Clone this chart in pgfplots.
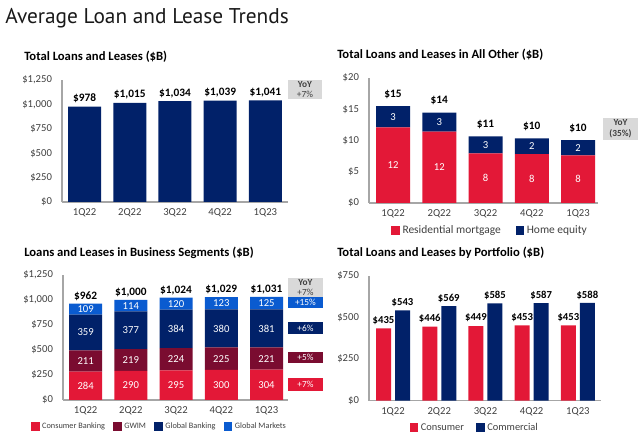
\documentclass[border=0pt]{standalone}
\usepackage{fontspec}
\setmainfont{Carlito}
\newfontfamily\titlefont{PT Sans}
\usepackage{pgfplots}
\pgfplotsset{compat=1.18}
\definecolor{bred}{HTML}{E31837}
\definecolor{bnavy}{HTML}{012169}
\definecolor{bmaroon}{HTML}{7A0C30}
\definecolor{bblue}{HTML}{0A5BD0}
\definecolor{axgray}{HTML}{A6A6A6}
\definecolor{tickgray}{HTML}{404040}
\definecolor{boxgray}{HTML}{D9D9D9}
\tikzset{
  vlab/.style={font=\bfseries\fontsize{8.5}{10}\selectfont, text=black},
  seglab/.style={font=\fontsize{8}{9}\selectfont, text=white}
}
\pgfplotsset{
  panel/.style={scale only axis, anchor=south west,
    axis x line*=bottom, axis y line*=left,
    axis line style={draw=axgray, line width=0.8pt},
    major tick length=0pt,
    tick label style={font=\fontsize{8}{9}\selectfont, text=tickgray},
    yticklabel style={xshift=-4pt},
    xticklabel style={yshift=-1.5pt},
    xtick={0,...,4}, xticklabels={1Q22,2Q22,3Q22,4Q22,1Q23},
    /pgf/number format/assume math mode=true,
    /pgf/number format/1000 sep={,},
    yticklabel={\$\pgfmathprintnumber{\tick}},
    clip=false, ymin=0},
  labaxis/.style={scale only axis, anchor=south west, hide axis, clip=false, ymin=0},
  sqleg/.style={legend image code/.code={\fill[##1] (0pt,-3pt) rectangle (6.5pt,3.5pt);}},
  legsty/.style={legend style={draw=none, fill=none, font=\fontsize{8}{9}\selectfont\color{tickgray},
    legend columns=-1, anchor=center,
    /tikz/every even column/.append style={column sep=7pt}}}
}
\begin{document}
\begin{tikzpicture}
\path[use as bounding box] (0pt,0pt) rectangle (480pt,328.5pt);
% main title
\node[anchor=base west, inner sep=0pt, font=\titlefont\fontsize{16}{19}\selectfont, text=black!90] at (3.75pt,310.5pt) {Average Loan and Lease Trends};
% panel titles
\node[anchor=base west, inner sep=0pt, font=\bfseries\fontsize{9.5}{11}\selectfont] at (18pt,282.75pt) {Total Loans and Leases (\$B)};
\node[anchor=base west, inner sep=0pt, font=\bfseries\fontsize{9.5}{11}\selectfont] at (252.75pt,284.25pt) {Total Loans and Leases in All Other (\$B)};
\node[anchor=base west, inner sep=0pt, font=\bfseries\fontsize{9.5}{11}\selectfont] at (18pt,135.75pt) {Loans and Leases in Business Segments (\$B)};
\node[anchor=base west, inner sep=0pt, font=\bfseries\fontsize{9.5}{11}\selectfont] at (252.75pt,135.75pt) {Total Loans and Leases by Portfolio (\$B)};

% ---------- Panel 1
\begin{axis}[panel, at={(46.5pt,177pt)}, width=169.5pt, height=91.5pt,
  xmin=-0.5, xmax=4.5, ymax=1250, ytick={0,250,...,1250}]
\addplot[ybar, bar width=24.75pt, fill=bnavy, draw=none,
  nodes near coords, point meta=explicit symbolic,
  every node near coord/.append style={vlab, anchor=center, yshift=6pt}]
  table[meta=lab] {
x y lab
0 978 {\$978}
1 1015 {\$1,015}
2 1034 {\$1,034}
3 1039 {\$1,039}
4 1041 {\$1,041}
};
\end{axis}
\fill[boxgray] (216pt,254.25pt) rectangle (241.5pt,268.5pt);
\node[align=center, inner sep=0pt, font=\fontsize{7}{8}\selectfont, text=tickgray] at (228.75pt,261.4pt) {\textbf{YoY}\\+7\%};

% ---------- Panel 2
\begin{axis}[panel, at={(276.75pt,176.25pt)}, width=171.75pt, height=93.75pt,
  xmin=-0.52, xmax=4.43, ymax=20, ytick={0,5,...,20},
  ybar stacked, bar width=25.5pt, legsty,
  legend style={at={(0.53,-0.224)}, font=\fontsize{8.6}{9}\selectfont\color{tickgray},
    /tikz/every even column/.append style={column sep=9pt}}]
\addplot[fill=bred, draw=none, sqleg] coordinates {(0,12.1)(1,11.4)(2,7.95)(3,7.8)(4,7.6)};
\addplot[fill=bnavy, draw=none, sqleg] coordinates {(0,3.4)(1,3.05)(2,2.72)(3,2.55)(4,2.45)};
\legend{Residential mortgage, Home equity}
\end{axis}
\begin{axis}[labaxis, at={(276.75pt,176.25pt)}, width=171.75pt, height=93.75pt,
  xmin=-0.52, xmax=4.43, ymax=20]
\addplot[only marks, mark=none, nodes near coords, point meta=explicit symbolic,
  every node near coord/.append style={seglab, anchor=center}]
  table[meta=lab] {
x y lab
0 6.05 12
1 5.7 12
2 3.975 8
3 3.9 8
4 3.8 8
0 13.8 3
1 12.925 3
2 9.31 3
3 9.075 2
4 8.825 2
};
\addplot[only marks, mark=none, nodes near coords, point meta=explicit symbolic,
  every node near coord/.append style={vlab, anchor=center, yshift=9pt}]
  table[meta=lab] {
x y lab
0 15.5 {\$15}
1 14.45 {\$14}
2 10.67 {\$11}
3 10.35 {\$10}
4 10.05 {\$10}
};
\end{axis}
\fill[boxgray] (452.25pt,223.5pt) rectangle (478.5pt,240pt);
\node[align=center, inner sep=0pt, font=\bfseries\fontsize{7}{8}\selectfont, text=tickgray] at (465.4pt,231.75pt) {YoY\\(35\%)};

% ---------- Panel 3
\begin{axis}[panel, at={(47.25pt,28.5pt)}, width=168.75pt, height=93.75pt,
  xmin=-0.5, xmax=4.475, ymax=1250, ytick={0,250,...,1250},
  ybar stacked, bar width=24.75pt, legsty,
  legend style={at={(0.43,-0.216)}, font=\fontsize{6.2}{8}\selectfont\color{tickgray},
    /tikz/every even column/.append style={column sep=4pt}}]
\addplot[fill=bred, draw=none, sqleg] coordinates {(0,284)(1,290)(2,295)(3,300)(4,304)};
\addplot[fill=bmaroon, draw=none, sqleg] coordinates {(0,211)(1,219)(2,224)(3,225)(4,221)};
\addplot[fill=bnavy, draw=none, sqleg] coordinates {(0,359)(1,377)(2,384)(3,380)(4,381)};
\addplot[fill=bblue, draw=none, sqleg] coordinates {(0,109)(1,114)(2,120)(3,123)(4,125)};
\legend{Consumer Banking, GWIM, Global Banking, Global Markets}
\end{axis}
\begin{axis}[labaxis, at={(47.25pt,28.5pt)}, width=168.75pt, height=93.75pt,
  xmin=-0.5, xmax=4.475, ymax=1250]
\addplot[only marks, mark=none, nodes near coords, point meta=explicit symbolic,
  every node near coord/.append style={seglab, anchor=center}]
  table[meta=lab] {
x y lab
0 142 284
1 145 290
2 147.5 295
3 150 300
4 152 304
0 389.5 211
1 399.5 219
2 407 224
3 412.5 225
4 414.5 221
0 674.5 359
1 697.5 377
2 711 384
3 715 380
4 715.5 381
0 908.5 109
1 943 114
2 963 120
3 966.5 123
4 968.5 125
};
\addplot[only marks, mark=none, nodes near coords, point meta=explicit symbolic,
  every node near coord/.append style={vlab, anchor=center, yshift=5.5pt}]
  table[meta=lab] {
x y lab
0 963 {\$962}
1 1000 {\$1,000}
2 1023 {\$1,024}
3 1028 {\$1,029}
4 1031 {\$1,031}
};
\end{axis}
\fill[boxgray] (216pt,105.75pt) rectangle (242.25pt,120pt);
\node[align=center, inner sep=0pt, font=\fontsize{7}{8}\selectfont, text=tickgray] at (229.1pt,112.9pt) {\textbf{YoY}\\+7\%};
\fill[bblue] (216pt,97.5pt) rectangle (242.25pt,105.75pt);
\node[inner sep=0pt, font=\fontsize{7}{8}\selectfont, text=white] at (229.1pt,101.6pt) {+15\%};
\fill[bnavy] (216pt,78pt) rectangle (242.25pt,87pt);
\node[inner sep=0pt, font=\fontsize{7}{8}\selectfont, text=white] at (229.1pt,82.5pt) {+6\%};
\fill[bmaroon] (216pt,56.25pt) rectangle (242.25pt,64.5pt);
\node[inner sep=0pt, font=\fontsize{7}{8}\selectfont, text=white] at (229.1pt,60.4pt) {+5\%};
\fill[bred] (216pt,35.25pt) rectangle (242.25pt,45pt);
\node[inner sep=0pt, font=\fontsize{7}{8}\selectfont, text=white] at (229.1pt,40.1pt) {+7\%};

% ---------- Panel 4
\begin{axis}[panel, at={(276.75pt,28pt)}, width=174pt, height=93.5pt,
  xmin=-0.52, xmax=4.5, ymax=750, ytick={0,250,500,750},
  legsty, legend style={at={(0.457,-0.219)}, font=\fontsize{7.8}{9}\selectfont\color{tickgray}}]
\addplot[ybar, bar width=11.25pt, bar shift=-7.125pt, fill=bred, draw=none, sqleg]
  coordinates {(0,435)(1,446)(2,449)(3,453)(4,453)};
\addplot[ybar, bar width=11.25pt, bar shift=7.125pt, fill=bnavy, draw=none, sqleg]
  coordinates {(0,543)(1,569)(2,585)(3,587)(4,588)};
\legend{Consumer, Commercial}
\addplot[forget plot, only marks, mark=none, nodes near coords, point meta=explicit symbolic,
  every node near coord/.append style={vlab, font=\bfseries\fontsize{8}{9}\selectfont, anchor=center, yshift=6pt, xshift=-7.125pt}]
  table[meta=lab] {
x y lab
0 435 {\$435}
1 446 {\$446}
2 449 {\$449}
3 453 {\$453}
4 453 {\$453}
};
\addplot[forget plot, only marks, mark=none, nodes near coords, point meta=explicit symbolic,
  every node near coord/.append style={vlab, font=\bfseries\fontsize{8}{9}\selectfont, anchor=center, yshift=6pt, xshift=7.125pt}]
  table[meta=lab] {
x y lab
0 543 {\$543}
1 569 {\$569}
2 585 {\$585}
3 587 {\$587}
4 588 {\$588}
};
\end{axis}
\end{tikzpicture}
\end{document}
